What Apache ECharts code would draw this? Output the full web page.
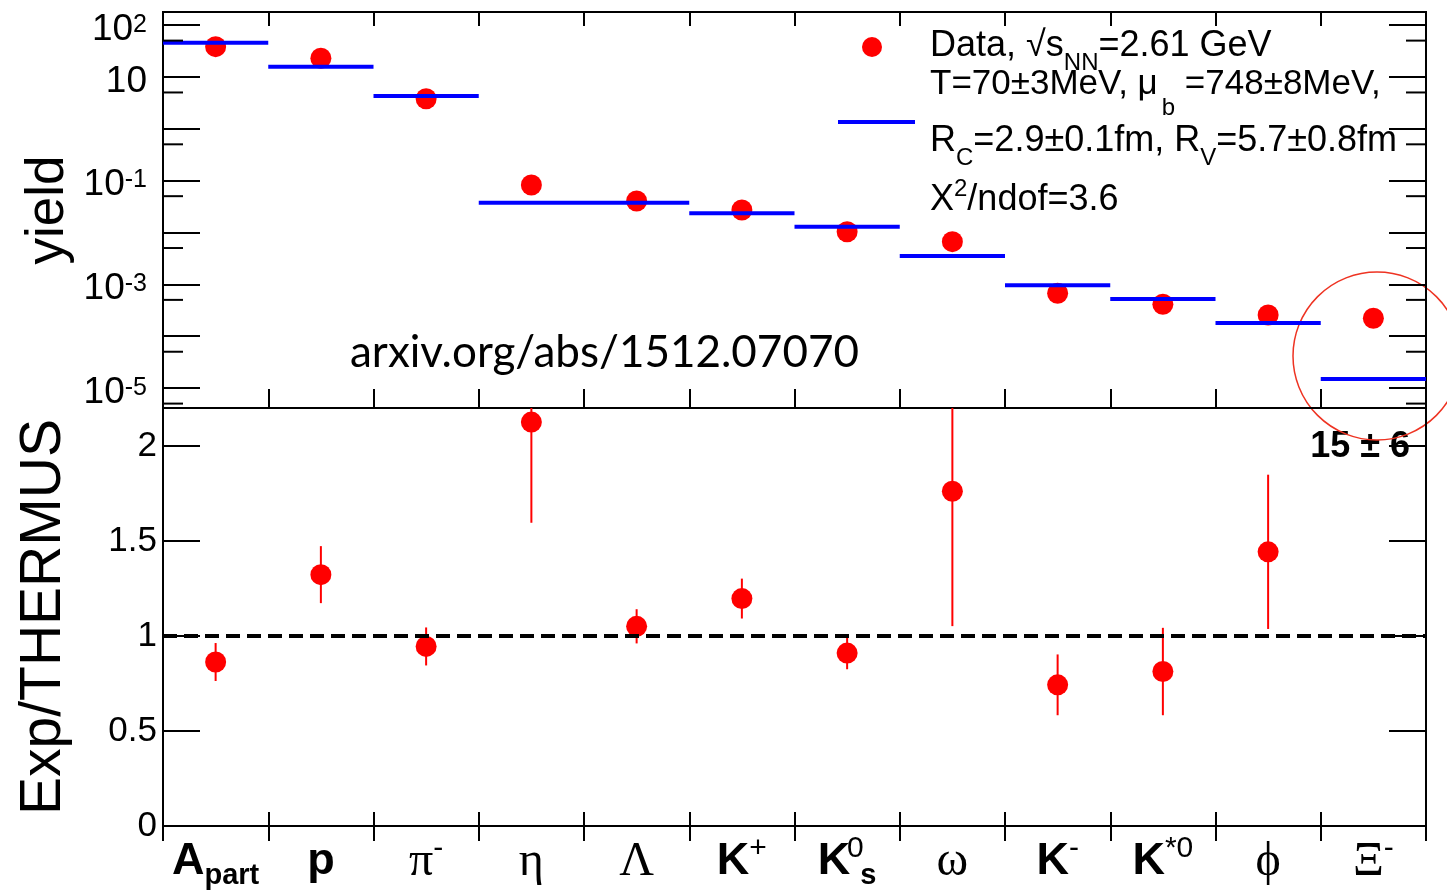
<!DOCTYPE html>
<html><head><meta charset="utf-8">
<script src="https://cdn.jsdelivr.net/npm/echarts@6/dist/echarts.min.js"></script>
<style>html,body{margin:0;padding:0;background:#fff}#c{width:1447px;height:892px}</style>
</head><body><div id="c"></div>
<script>
// ---------------- data ----------------
const categories = ['A_part', 'p', 'π^-', 'η', 'Λ', 'K^+', 'K^0_s', 'ω', 'K^-', 'K^*0', 'ϕ', 'Ξ^-'];
const dataYield  = [38.2, 22.8, 3.79, 0.0822, 0.0404, 0.0271, 0.0103, 0.00663, 6.70e-4, 4.11e-4, 2.56e-4, 2.21e-4];
const modelYield = [45.6, 15.7, 4.28, 0.0375, 0.0375, 0.0234, 0.0129, 0.00352, 9.57e-4, 5.21e-4, 1.79e-4, 1.49e-5];
const ratio      = [0.863, 1.323, 0.945, 2.126, 1.051, 1.197, 0.910, 1.762, 0.743, 0.813, 1.443, 15];
const ratioErr   = [0.10, 0.15, 0.10, 0.53, 0.09, 0.105, 0.085, 0.71, 0.16, 0.23, 0.406, 6];
const yieldLabels = [[100, '2'], [10, ''], [0.1, '-1'], [0.001, '-3'], [0.00001, '-5']];
const yieldMinorTicks = [50, 5, 0.5, 0.05, 0.005, 0.0005, 0.00005, 0.000005];
const ratioTickStep = 0.5;
const legendLines = ['Data, √s{sub|NN}=2.61 GeV', 'T=70±3MeV, μ{subb|b} =748±8MeV,', 'R{sub|C}=2.9±0.1fm, R{sub|V}=5.7±0.8fm', 'X{sup|2}/ndof=3.6'];
const sourceText = 'arxiv.org/abs/1512.07070';

// ---------------- styling ----------------
const SANS = '"Liberation Sans", Arial, Helvetica, sans-serif';
const SERIF = '"Liberation Serif", "DejaVu Serif", "Times New Roman", serif';
const RED = '#ff0000', BLUE = '#0000ff';
const yMin = Math.pow(10, -5.386), yMax = Math.pow(10, 2.2507);

function catLabel(s) {
  const m = s.match(/^([^_^]+)(?:\^([^_]+))?(?:_(.+))?$/);
  const base = m[1], sup = m[2], sub = m[3];
  const st = /[\u0370-\u03FF]/.test(base) ? 'G' : 'L';
  let out = '{' + st + '|' + base + '}';
  if (sup && sub) out += '{supz|' + sup + '}{subs|' + sub + '}';
  else { if (sup) out += '{sup|' + sup + '}'; if (sub) out += '{sub|' + sub + '}'; }
  return out;
}

const tickStyle = {color: '#000', width: 2};
function xAxis(gridIndex, position, tickLen, withLabels) {
  return {
    type: 'category', gridIndex, position, data: categories, boundaryGap: true,
    axisLine: {show: true, lineStyle: tickStyle},
    axisTick: {show: true, inside: true, length: tickLen, interval: 0, lineStyle: tickStyle},
    splitLine: {show: false},
    axisLabel: withLabels ? {
      show: true, interval: 0, margin: 8, color: '#000',
      formatter: (v) => catLabel(v),
      rich: {
        L: {fontFamily: SANS, fontWeight: 'bold', fontSize: 45, lineHeight: 56, color: '#000'},
        G: {fontFamily: SERIF, fontWeight: 'normal', fontSize: 48, lineHeight: 56, color: '#000'},
        sup: {fontFamily: SANS, fontSize: 30, height: 30, lineHeight: 30, verticalAlign: 'top', color: '#000'},
        supz: {fontFamily: SANS, fontSize: 30, height: 30, lineHeight: 30, width: 0, padding: [0, 0, 0, 5], verticalAlign: 'top', color: '#000'},
        sub: {fontFamily: SANS, fontWeight: 'bold', fontSize: 29, height: 29, lineHeight: 29, verticalAlign: 'bottom', color: '#000'},
        subs: {fontFamily: SANS, fontWeight: 'bold', fontSize: 29, height: 29, lineHeight: 29, verticalAlign: 'bottom', padding: [0, 0, 0, 5], color: '#000'}
      }
    } : {show: false}
  };
}

const option = {
  animation: false,
  backgroundColor: '#fff',
  grid: [
    {left: 163, width: 1263, top: 12, height: 396, show: true, borderColor: '#000', borderWidth: 2, backgroundColor: 'transparent', outerBoundsMode: 'none', containLabel: false},
    {left: 163, width: 1263, top: 408, height: 418, show: true, borderColor: '#000', borderWidth: 2, backgroundColor: 'transparent', outerBoundsMode: 'none', containLabel: false}
  ],
  xAxis: [
    xAxis(0, 'bottom', 19, false),
    xAxis(0, 'top', 14, false),
    xAxis(1, 'bottom', 14, true),
    xAxis(1, 'top', 15, false)
  ],
  yAxis: [
    {
      type: 'log', gridIndex: 0, position: 'left', min: yMin, max: yMax, logBase: 10,
      name: 'yield', nameLocation: 'middle', nameGap: 88, nameMoveOverlap: false,
      nameTextStyle: {fontFamily: SANS, fontSize: 53, color: '#000'},
      axisLine: {show: true, lineStyle: tickStyle},
      axisTick: {show: true, inside: true, length: 37, lineStyle: tickStyle},
      splitLine: {show: false}, minorTick: {show: false},
      axisLabel: {
        show: true, margin: 16, color: '#000', padding: [9, 0, 0, 0],
        formatter: (v) => {
          const lv = Math.log10(v), e = Math.round(lv);
          if (Math.abs(lv - e) > 1e-6) return '';
          const f = yieldLabels.find(d => Math.round(Math.log10(d[0])) === e);
          if (!f) return '';
          return f[1] ? '{b|10}{sup|' + f[1] + '}' : '{b|10}';
        },
        rich: {
          b: {fontFamily: SANS, fontSize: 37, lineHeight: 44, color: '#000'},
          sup: {fontFamily: SANS, fontSize: 25, height: 25, lineHeight: 25, verticalAlign: 'top', padding: [5, 0, 0, 0], color: '#000'}
        }
      }
    },
    {
      type: 'log', gridIndex: 0, position: 'right', min: yMin, max: yMax, logBase: 10,
      axisLine: {show: true, lineStyle: tickStyle},
      axisTick: {show: true, inside: true, length: 37, lineStyle: tickStyle},
      splitLine: {show: false}, axisLabel: {show: false}
    },
    {
      type: 'value', gridIndex: 1, position: 'left', min: 0, max: 2.2, interval: ratioTickStep,
      name: 'Exp/THERMUS', nameLocation: 'middle', nameGap: 90, nameMoveOverlap: false,
      nameTextStyle: {fontFamily: SANS, fontSize: 57, color: '#000'},
      axisLine: {show: true, lineStyle: tickStyle},
      axisTick: {show: true, inside: true, length: 37, lineStyle: tickStyle},
      splitLine: {show: false},
      axisLabel: {
        show: true, margin: 6, color: '#000', fontFamily: SANS, fontSize: 35,
        formatter: (v) => Math.abs(v / ratioTickStep - Math.round(v / ratioTickStep)) < 1e-9 ? String(+v.toFixed(2)) : ''
      }
    },
    {
      type: 'value', gridIndex: 1, position: 'right', min: 0, max: 2.2, interval: ratioTickStep,
      axisLine: {show: true, lineStyle: tickStyle},
      axisTick: {show: true, inside: true, length: 37, lineStyle: tickStyle},
      splitLine: {show: false}, axisLabel: {show: false}
    }
  ],
  series: [
    {
      name: 'Data', type: 'scatter', xAxisIndex: 0, yAxisIndex: 0, z: 3,
      symbol: 'circle', symbolSize: 21, itemStyle: {color: RED, opacity: 1},
      data: dataYield.map((v, i) => [i, v])
    },
    {
      name: 'THERMUS', type: 'custom', xAxisIndex: 0, yAxisIndex: 0, z: 4,
      data: modelYield.map((v, i) => [i, v]),
      renderItem: (params, api) => {
        const p = api.coord([api.value(0), api.value(1)]);
        const w = params.coordSys.width / categories.length;
        return {type: 'line', shape: {x1: p[0] - w / 2, y1: p[1], x2: p[0] + w / 2, y2: p[1]},
                style: {stroke: BLUE, lineWidth: 4}};
      }
    },
    {
      name: 'minorTicks', type: 'custom', xAxisIndex: 0, yAxisIndex: 0, z: 4, silent: true,
      data: yieldMinorTicks.map(v => [0, v]),
      renderItem: (params, api) => {
        const y = api.coord([0, api.value(1)])[1];
        const cs = params.coordSys;
        return {type: 'group', children: [
          {type: 'line', shape: {x1: cs.x, y1: y, x2: cs.x + 20, y2: y}, style: {stroke: '#000', lineWidth: 2}},
          {type: 'line', shape: {x1: cs.x + cs.width - 20, y1: y, x2: cs.x + cs.width, y2: y}, style: {stroke: '#000', lineWidth: 2}}
        ]};
      }
    },
    {
      name: 'ratioErr', type: 'custom', xAxisIndex: 2, yAxisIndex: 2, z: 2,
      data: ratio.map((v, i) => [i, v, ratioErr[i]]),
      renderItem: (params, api) => {
        const i = api.value(0), v = api.value(1), e = api.value(2);
        const cs = params.coordSys;
        const a = api.coord([i, v + e]), b = api.coord([i, v - e]);
        const clamp = (y) => Math.max(cs.y, Math.min(cs.y + cs.height, y));
        const y1 = clamp(a[1]), y2 = clamp(b[1]);
        if (Math.abs(y1 - y2) < 0.5) return null;
        return {type: 'line', shape: {x1: a[0], y1, x2: a[0], y2}, style: {stroke: RED, lineWidth: 2}};
      }
    },
    {
      name: 'Exp/THERMUS', type: 'scatter', xAxisIndex: 2, yAxisIndex: 2, z: 3, clip: true,
      symbol: 'circle', symbolSize: 21, itemStyle: {color: RED, opacity: 1},
      data: ratio.map((v, i) => [i, v]),
      markLine: {
        silent: true, symbol: ['none', 'none'], label: {show: false}, z: 5,
        lineStyle: {color: '#000', width: 4, type: [14, 7], opacity: 1},
        data: [{yAxis: 1}]
      }
    }
  ],
  graphic: [
    {type: 'circle', shape: {cx: 872, cy: 47, r: 10}, style: {fill: RED}},
    {type: 'line', shape: {x1: 838, y1: 122, x2: 915, y2: 122}, style: {stroke: BLUE, lineWidth: 4}},
    ...[46.5, 84, 141.5, 200].map((cy, k) => ({
      type: 'text', x: 930, y: cy,
      style: {
        text: legendLines[k].replace(/^([^{]*)/, '{m|$1}').replace(/\}([^{}]+)\{/g, '}{m|$1}{').replace(/\}([^{}]+)$/, '}{m|$1}'),
        align: 'left', verticalAlign: 'middle',
        rich: {
          m: {fontFamily: SANS, fontSize: k === 1 ? 35 : 36, lineHeight: k === 1 ? 80 : 60, fill: '#000'},
          sub: {fontFamily: SANS, fontSize: 24, height: 24, lineHeight: 24, verticalAlign: 'bottom', padding: [0, 0, 1, 0], fill: '#000'},
          subb: {fontFamily: SANS, fontSize: 24, height: 24, lineHeight: 24, verticalAlign: 'bottom', padding: [0, 0, 4, 4], fill: '#000'},
          sup: {fontFamily: SANS, fontSize: 24, height: 24, lineHeight: 24, verticalAlign: 'top', padding: [7, 0, 0, 0], fill: '#000'}
        }
      }
    })),
    {type: 'text', x: 350, y: 353, style: {text: sourceText, fontFamily: 'Lato, "Open Sans", sans-serif', fontSize: 44, fill: '#000', align: 'left', verticalAlign: 'middle'}},
    {type: 'text', x: 1410, y: 447, style: {text: ratio[11] + ' ± ' + ratioErr[11], fontFamily: SANS, fontWeight: 'bold', fontSize: 36, fill: '#000', align: 'right', verticalAlign: 'middle'}},
    {type: 'circle', shape: {cx: 1377, cy: 356, r: 84}, style: {fill: 'none', stroke: '#ee3322', lineWidth: 1.5}}
  ]
};

const chart = echarts.init(document.getElementById('c'), null, {renderer: 'canvas', width: 1447, height: 892});
chart.setOption(option);
</script>
</body></html>
